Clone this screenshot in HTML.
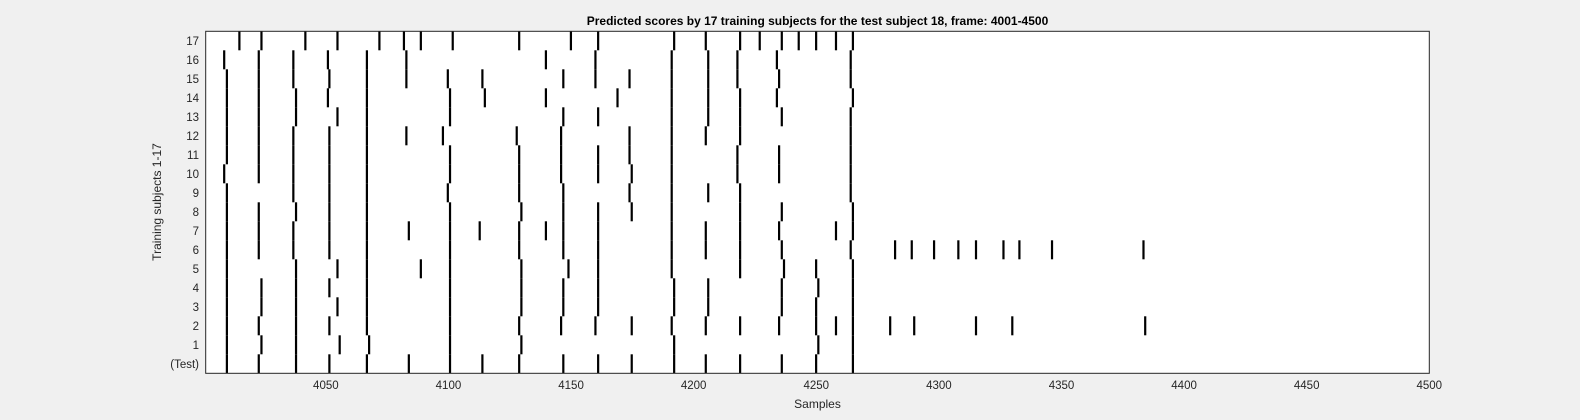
<!DOCTYPE html>
<html><head><meta charset="utf-8"><style>
body{margin:0;background:#f0f0f0;}
svg{display:block;font-family:"Liberation Sans",Arial,sans-serif;}
</style></head><body>
<svg id="chart" width="1580" height="420" viewBox="0 0 1580 420" xmlns="http://www.w3.org/2000/svg">
<rect x="205.7" y="31.3" width="1223.6" height="342" fill="#ffffff"/>
<g id="marks"></g>
<g id="axes"></g>
<rect x="205.7" y="31.3" width="1223.6" height="342" fill="none" stroke="#262626" stroke-width="1"/>
<text x="817.5" y="25" text-anchor="middle" font-size="12" font-weight="bold" fill="#000">Predicted scores by 17 training subjects for the test subject 18, frame: 4001-4500</text>
<text x="817.5" y="408" text-anchor="middle" font-size="12" fill="#262626">Samples</text>
<text transform="translate(161,202) rotate(-90)" text-anchor="middle" font-size="12" fill="#262626">Training subjects 1-17</text>
</svg>
<script>
const rowLabels = ["(Test)","1","2","3","4","5","6","7","8","9","10","11","12","13","14","15","16","17"];
const xTicks = [4050,4100,4150,4200,4250,4300,4350,4400,4450,4500];
const rowTest = [4009.6,4022.6,4037.8,4051.4,4066.7,4083.8,4100.6,4113.8,4128.8,4146.8,4161.0,4174.7,4192.0,4204.9,4218.9,4235.9,4249.9,4264.9];
const row1 = [4009.6,4023.7,4037.8,4055.6,4067.6,4100.6,4129.7,4192.0,4250.8,4264.9];
const row2 = [4009.6,4022.6,4037.8,4051.4,4066.7,4100.6,4128.8,4145.9,4159.9,4174.7,4191.0,4204.9,4218.9,4234.8,4249.9,4258.0,4264.9,4280.1,4289.9,4315.1,4329.9,4384.1];
const row3 = [4009.6,4023.7,4037.8,4054.7,4066.7,4100.6,4129.7,4146.8,4161.0,4192.0,4205.9,4235.9,4249.9,4264.9];
const row4 = [4009.6,4023.7,4037.8,4051.4,4066.7,4100.6,4129.7,4146.8,4161.0,4192.0,4205.9,4235.9,4250.8,4264.9];
const row5 = [4009.6,4037.8,4054.7,4066.7,4088.7,4100.6,4129.7,4148.9,4161.0,4191.0,4218.9,4236.8,4249.9,4264.9];
const row6 = [4009.6,4022.6,4036.7,4051.4,4066.7,4100.6,4128.8,4146.8,4161.0,4191.0,4204.9,4218.9,4235.9,4264.0,4282.1,4288.9,4298.0,4307.9,4315.1,4326.3,4332.8,4346.1,4383.4];
const row7 = [4009.6,4022.6,4036.7,4051.4,4066.7,4083.8,4100.6,4112.7,4128.8,4139.7,4146.8,4161.0,4191.0,4204.9,4218.9,4234.8,4258.0,4264.9];
const row8 = [4009.6,4022.6,4037.8,4051.4,4066.7,4100.6,4129.7,4146.8,4161.0,4174.7,4191.0,4218.9,4235.9,4264.9];
const row9 = [4009.6,4036.7,4051.4,4066.7,4099.7,4128.8,4146.8,4173.8,4191.0,4205.9,4218.9,4264.0];
const row10 = [4008.5,4022.6,4036.7,4051.4,4066.7,4100.6,4128.8,4145.9,4161.0,4174.7,4191.0,4217.8,4234.8,4264.0];
const row11 = [4009.6,4022.6,4036.7,4051.4,4066.7,4100.6,4128.8,4145.9,4161.0,4173.8,4191.0,4217.8,4234.8,4264.0];
const row12 = [4009.6,4022.6,4036.7,4051.4,4066.7,4082.8,4097.7,4127.8,4145.9,4173.8,4191.0,4204.9,4218.9,4264.0];
const row13 = [4009.6,4022.6,4037.8,4054.7,4066.7,4100.6,4146.8,4161.0,4191.0,4205.9,4218.9,4235.9,4264.0];
const row14 = [4009.6,4022.6,4037.8,4050.8,4066.7,4100.6,4114.8,4139.7,4168.9,4191.0,4205.9,4218.9,4233.9,4264.9];
const row15 = [4009.6,4022.6,4036.7,4051.4,4066.7,4082.8,4099.7,4113.8,4146.8,4159.9,4173.8,4191.0,4205.9,4217.8,4234.8,4264.0];
const row16 = [4008.5,4022.6,4036.7,4050.8,4066.7,4082.8,4139.7,4159.9,4191.0,4205.9,4217.8,4233.9,4264.0];
const row17 = [4014.7,4023.7,4041.6,4054.7,4071.8,4081.8,4088.7,4101.7,4128.8,4149.9,4161.0,4192.0,4204.9,4218.9,4226.9,4235.9,4242.8,4249.9,4258.0,4264.9];
const rows = [rowTest,row1,row2,row3,row4,row5,row6,row7,row8,row9,row10,row11,row12,row13,row14,row15,row16,row17];

const NS="http://www.w3.org/2000/svg";
const X0=205.7,X1=1429.3,Y0=31.3,Y1=373.3,XMIN=4001,XMAX=4500;
const rowH=(Y1-Y0)/rowLabels.length;
function xScale(v){return X0+(v-XMIN)/(XMAX-XMIN)*(X1-X0);}
function rowTop(i){return Y1-(i+1)*rowH;}
const marks=document.getElementById('marks');
const axes=document.getElementById('axes');
rows.forEach((r,i)=>{
  r.forEach(v=>{
    const l=document.createElementNS(NS,'rect');
    
    
    l.setAttribute('x',xScale(v)-1);
    l.setAttribute('y',rowTop(i));
    l.setAttribute('width',2.2);
    l.setAttribute('height',rowH);
    l.setAttribute('fill','#000');
    marks.appendChild(l);
  });
  const t=document.createElementNS(NS,'text');
  
  
  t.setAttribute('x',199);
  t.setAttribute('y',rowTop(i)+rowH/2+4);
  t.setAttribute('text-anchor','end');
  t.setAttribute('font-size','11.5');
  t.setAttribute('fill','#262626');
  t.textContent=rowLabels[i];
  axes.appendChild(t);
});
xTicks.forEach(v=>{
  const x=xScale(v);
  const t=document.createElementNS(NS,'text');
  
  
  t.setAttribute('x',x);
  t.setAttribute('y',389);
  t.setAttribute('text-anchor','middle');
  t.setAttribute('font-size','11.5');
  t.setAttribute('fill','#262626');
  t.textContent=v;
  axes.appendChild(t);
});
</script>
</body></html>
